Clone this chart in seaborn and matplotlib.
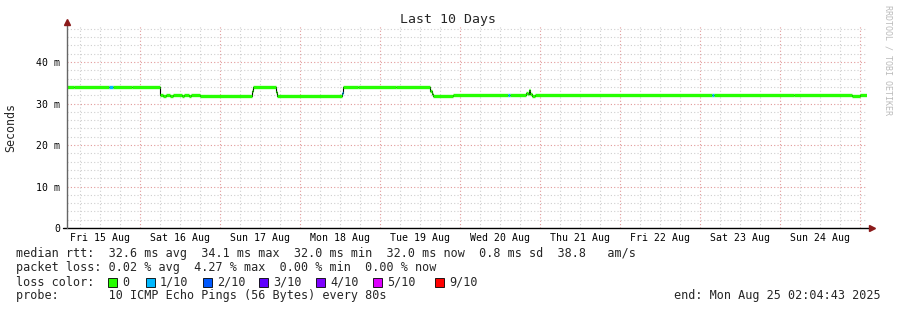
import numpy as np
import pandas as pd
import matplotlib
matplotlib.use('Agg')
import matplotlib.pyplot as plt
import matplotlib.dates as mdates
from matplotlib.patches import Rectangle
import seaborn as sns

# median rtt steps (ms)
step_times = ['2025-08-15 02:04', '2025-08-15 04:12', '2025-08-15 14:42', '2025-08-15 15:48',
              '2025-08-15 21:30', '2025-08-16 06:05', '2025-08-16 07:00', '2025-08-16 07:48',
              '2025-08-16 09:00', '2025-08-16 09:48', '2025-08-16 12:30', '2025-08-16 13:12',
              '2025-08-16 14:42', '2025-08-16 15:18', '2025-08-16 18:00', '2025-08-17 09:30',
              '2025-08-17 09:54', '2025-08-17 16:42', '2025-08-17 17:06', '2025-08-18 12:30',
              '2025-08-18 13:00', '2025-08-18 17:24', '2025-08-19 04:48', '2025-08-19 15:00',
              '2025-08-19 15:36', '2025-08-19 16:00', '2025-08-19 21:54', '2025-08-20 14:24',
              '2025-08-20 14:54', '2025-08-20 19:54', '2025-08-20 20:18', '2025-08-20 20:42',
              '2025-08-20 21:06', '2025-08-20 21:30', '2025-08-20 22:24', '2025-08-23 03:36',
              '2025-08-23 04:12', '2025-08-24 04:12', '2025-08-24 21:30', '2025-08-25 00:00']
step_values = [33.9, 34.1, 34.1, 34.1,
               33.95, 32.0, 31.8, 32.0,
               31.8, 32.0, 31.8, 32.0,
               31.8, 32.0, 31.9, 33.0,
               34.0, 32.9, 31.9, 32.6,
               34.1, 34.0, 34.1, 33.0,
               32.4, 31.9, 32.0, 32.0,
               32.0, 32.6, 32.2, 33.2,
               32.4, 31.8, 32.0, 32.0,
               32.0, 32.1, 31.9, 32.0]
step_loss = [0, 0, 1, 0,
             0, 0, 0, 0,
             0, 0, 0, 0,
             0, 0, 0, 0,
             0, 0, 0, 1,
             0, 0, 0, 0,
             0, 0, 0, 1,
             0, 0, 0, 0,
             0, 0, 0, 1,
             0, 0, 0, 0]

window_start = '2025-08-15 02:04:43'
window_end = '2025-08-25 02:04:43'
day_labels = ['Fri 15 Aug', 'Sat 16 Aug', 'Sun 17 Aug', 'Mon 18 Aug', 'Tue 19 Aug',
              'Wed 20 Aug', 'Thu 21 Aug', 'Fri 22 Aug', 'Sat 23 Aug', 'Sun 24 Aug']
y_ticks = [0, 10, 20, 30, 40]
y_labels = ['0', '10 m', '20 m', '30 m', '40 m']
loss_names = ['0', '1/10', '2/10', '3/10', '4/10', '5/10', '9/10']
loss_colors = ['#26ff00', '#00b8ff', '#0059ff', '#5e00ff', '#7e00ff', '#dd00ff', '#ff0000']

sns.set_theme(style='white')
plt.rcParams['font.family'] = ['DejaVu Sans Mono']

W, H = 897, 310
fig = plt.figure(figsize=(W / 100, H / 100), dpi=100)
fig.patch.set_facecolor('white')
ax = fig.add_axes([67 / W, 1 - 228 / H, 800 / W, (228 - 26) / H])
ax.set_facecolor('white')

def fx(x):
    return x / W

def fy(y):
    return 1 - y / H

df = pd.DataFrame({'time': pd.to_datetime(step_times), 'value': step_values, 'loss': step_loss})
t_end = pd.Timestamp(window_end)
df_ext = pd.concat([df, pd.DataFrame({'time': [t_end], 'value': [step_values[-1]], 'loss': [0]})],
                   ignore_index=True)

# grid
grid_gray = '#cfcfcf'
grid_red = '#e29a9a'
for d in pd.date_range('2025-08-15 06:00', '2025-08-25 00:00', freq='6h'):
    c = grid_red if d.hour == 0 else grid_gray
    ax.axvline(d, color=c, lw=0.8, ls=(0, (1, 2)), zorder=1)
for v in range(2, 49, 2):
    c = grid_red if v % 10 == 0 else grid_gray
    ax.axhline(v, color=c, lw=0.8, ls=(0, (1, 2)), zorder=1)

# thin black step line under the coloured median
sns.lineplot(data=df_ext, x='time', y='value', drawstyle='steps-post', color='black',
             lw=0.8, estimator=None, ax=ax, zorder=2)
starts = mdates.date2num(df['time'])
ends = mdates.date2num(list(df['time'][1:]) + [t_end])
ax.hlines(df['value'], starts, ends, colors=[loss_colors[i] for i in df['loss']],
          lw=2.4, zorder=3)

ax.set_xlim(pd.Timestamp(window_start), t_end)
ax.set_ylim(0, 48.7)
ax.set_xticks(pd.date_range('2025-08-15 12:00', periods=10, freq='D'))
ax.set_xticklabels(day_labels)
ax.set_yticks(y_ticks)
ax.set_yticklabels(y_labels)
ax.tick_params(axis='x', length=0, pad=3.5, labelsize=7.1, colors='black')
ax.tick_params(axis='y', length=0, pad=5, labelsize=7.1, colors='black')
ax.set_xlabel('')
ax.set_ylabel('')
for s in ax.spines.values():
    s.set_visible(False)

# axes with arrows
ax.plot([-0.005, 1.004], [0, 0], transform=ax.transAxes, color='black', lw=1, clip_on=False, zorder=5)
ax.plot([1.006], [0], marker='>', ms=4, color='#8b1a1a', transform=ax.transAxes, clip_on=False, zorder=6)
ax.plot([0, 0], [0, 1.01], transform=ax.transAxes, color='#666666', lw=1, clip_on=False, zorder=5)
ax.plot([0], [1.02], marker='^', ms=4, color='#8b1a1a', transform=ax.transAxes, clip_on=False, zorder=6)

# texts
fig.text(fx(448), fy(20), 'Last 10 Days', ha='center', va='center', fontsize=9.5)
fig.text(fx(11), fy(127), 'Seconds', ha='center', va='center', rotation=90, fontsize=8.4)
fig.text(fx(888), fy(5), 'RRDTOOL / TOBI OETIKER', ha='center', va='top', rotation=270,
         fontsize=6, color='#bbbbbb')

lx = fx(16)
fs = 8.5
fig.text(lx, fy(254), 'median rtt:  32.6 ms avg  34.1 ms max  32.0 ms min  32.0 ms now  0.8 ms sd  38.8   am/s',
         ha='left', va='center', fontsize=fs)
fig.text(lx, fy(268), 'packet loss: 0.02 % avg  4.27 % max  0.00 % min  0.00 % now',
         ha='left', va='center', fontsize=fs)
fig.text(lx, fy(282), 'loss color:', ha='left', va='center', fontsize=fs)
box_x = [108, 146, 203, 259, 316, 373, 435]
for bx, name, col in zip(box_x, loss_names, loss_colors):
    fig.patches.append(Rectangle((fx(bx), fy(286.5)), 9 / W, 9 / H, transform=fig.transFigure,
                                 facecolor=col, edgecolor='black', lw=0.6))
    fig.text(fx(bx + 14), fy(282), name, ha='left', va='center', fontsize=fs)
fig.text(lx, fy(296), 'probe:       10 ICMP Echo Pings (56 Bytes) every 80s',
         ha='left', va='center', fontsize=fs)
fig.text(fx(881), fy(296), 'end: Mon Aug 25 02:04:43 2025', ha='right', va='center', fontsize=fs)

fig.savefig('out.png', dpi=100, facecolor='white')
